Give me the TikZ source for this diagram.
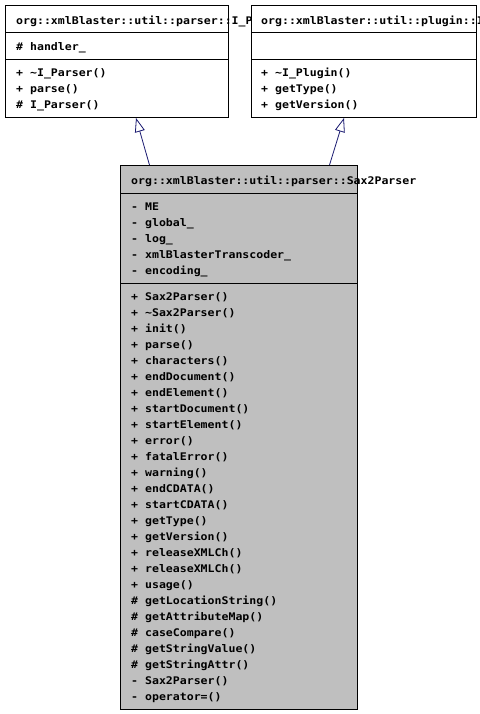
\documentclass[tikz,border=0pt]{standalone}
\usepackage{fontspec}
\newfontfamily\umlfont{DejaVu Sans Mono}[FakeStretch=1.1]
\usetikzlibrary{arrows.meta,positioning}
\definecolor{edgeblue}{HTML}{191970}

\begin{document}
\begin{tikzpicture}[
        x=1pt, y=-1pt,
        classbox/.style={draw, line width=0.9pt, inner sep=0pt, fill=white},
        member/.style={anchor=west, inner sep=0pt, text height=7.5pt, text depth=0pt, font=\umlfont\bfseries\fontsize{10.5}{12}\selectfont},
        inherit/.style={draw=edgeblue, line width=0.8pt, -{Triangle[open, length=14pt, width=10pt]}}
    ]
        \clip (0,0) rectangle (479,714);

        % base class I_Parser
        \node[classbox, minimum width=223pt, minimum height=112pt] (IParser) at (117,61.5) {};
        \draw ([yshift=-27pt]IParser.north west) -- ([yshift=-27pt]IParser.north east);
        \draw ([yshift=-54pt]IParser.north west) -- ([yshift=-54pt]IParser.north east);
        \node[member] (IParserName) at (16,20.7) {org::xmlBlaster::util::parser::I\_Parser};
        \node[member] (IParserAttr) at (16,46.7) {\# handler\_};
        \foreach \txt [count=\i from 0] in {+ \textasciitilde I\_Parser(), + parse(), \# I\_Parser()} {
            \node[member] (IParserOp\i) at (16,72.7+16*\i) {\txt};
        }

        % base class I_Plugin
        \node[classbox, minimum width=225pt, minimum height=112pt] (IPlugin) at (364,61.5) {};
        \draw ([yshift=-27pt]IPlugin.north west) -- ([yshift=-27pt]IPlugin.north east);
        \draw ([yshift=-54pt]IPlugin.north west) -- ([yshift=-54pt]IPlugin.north east);
        \node[member] (IPluginName) at (261,20.7) {org::xmlBlaster::util::plugin::I\_Plugin};
        \foreach \txt [count=\i from 0] in {+ \textasciitilde I\_Plugin(), + getType(), + getVersion()} {
            \node[member] (IPluginOp\i) at (261,72.7+16*\i) {\txt};
        }

        % derived class Sax2Parser
        \node[classbox, fill=gray!50, minimum width=237pt, minimum height=544pt] (SaxParser) at (239,437.5) {};
        \draw ([yshift=-28pt]SaxParser.north west) -- ([yshift=-28pt]SaxParser.north east);
        \draw ([yshift=-118pt]SaxParser.north west) -- ([yshift=-118pt]SaxParser.north east);
        \node[member] (SaxParserName) at (131,180.7) {org::xmlBlaster::util::parser::Sax2Parser};
        \foreach \txt [count=\i from 0] in {- ME, - global\_, - log\_, - xmlBlasterTranscoder\_, - encoding\_} {
            \node[member] (SaxParserAttr\i) at (131,206.7+16*\i) {\txt};
        }
        \foreach \txt [count=\i from 0] in {+ Sax2Parser(), + \textasciitilde Sax2Parser(), + init(), + parse(),
            + characters(), + endDocument(), + endElement(), + startDocument(), + startElement(),
            + error(), + fatalError(), + warning(), + endCDATA(), + startCDATA(), + getType(),
            + getVersion(), + releaseXMLCh(), + releaseXMLCh(), + usage(), \# getLocationString(),
            \# getAttributeMap(), \# caseCompare(), \# getStringValue(), \# getStringAttr(),
            - Sax2Parser(), - operator=()} {
            \node[member] (SaxParserOp\i) at (131,296.7+16*\i) {\txt};
        }

        % inheritance
        \draw[inherit] ([xshift=-89.5pt]SaxParser.north) -- ([xshift=19pt]IParser.south);
        \draw[inherit] ([xshift=90.5pt]SaxParser.north) -- ([xshift=-20pt]IPlugin.south);
    \end{tikzpicture}
\end{document}
